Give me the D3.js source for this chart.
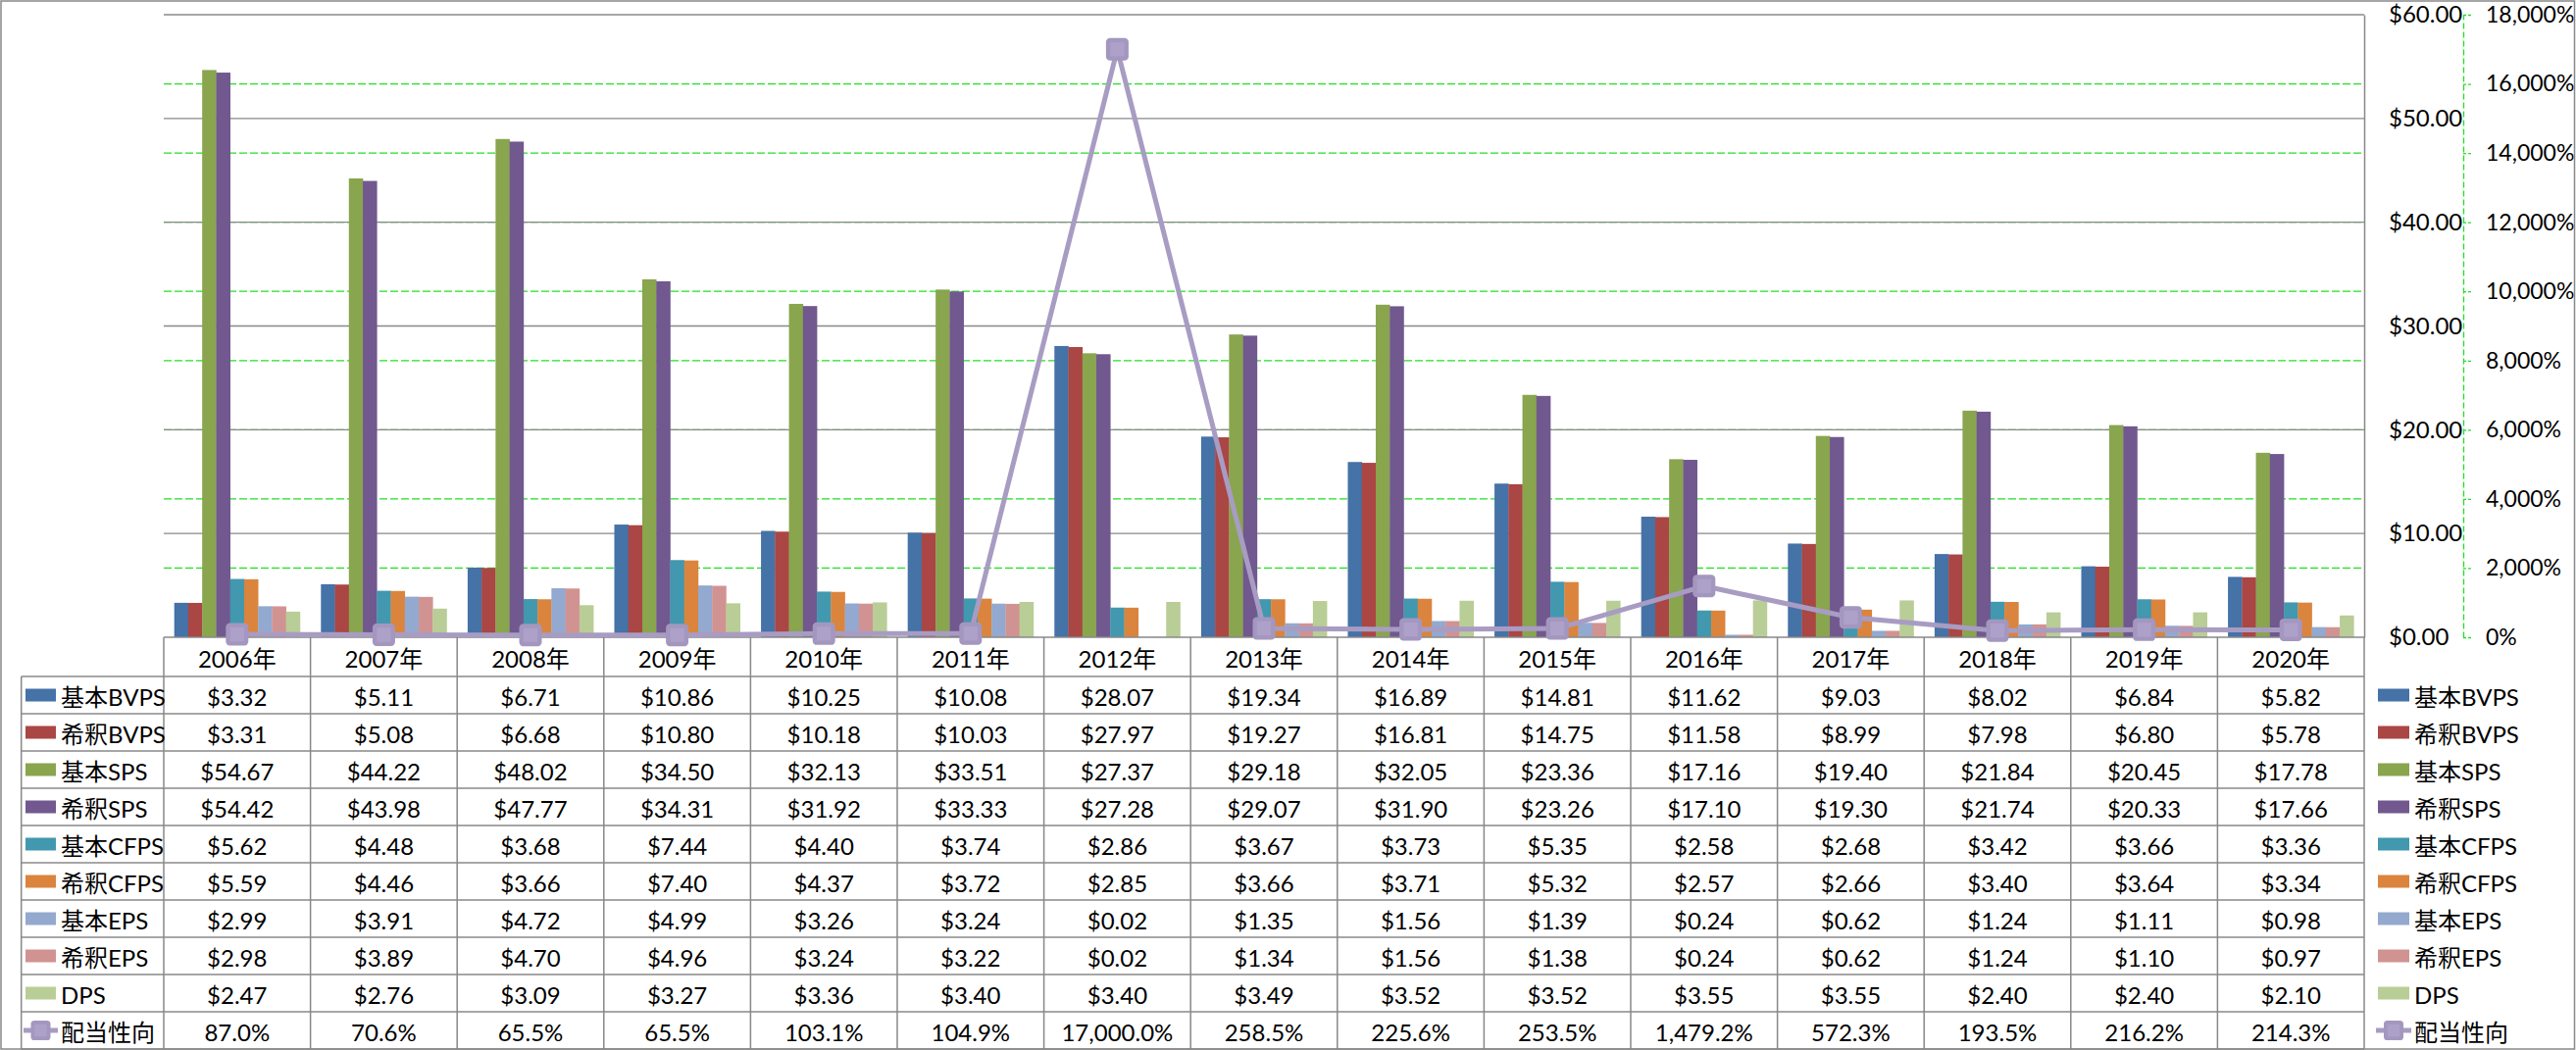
<!DOCTYPE html>
<html>
<head>
<meta charset="utf-8">
<script src="https://cdn.jsdelivr.net/npm/d3@7/dist/d3.min.js"></script>
<style>
  html, body { margin: 0; padding: 0; background: #fff; }
  svg { display: block; }
  text { font-family: Lato, "Noto Sans CJK JP", sans-serif; font-size: 24px; fill: #000; }
</style>
</head>
<body>
<svg id="chart" width="2627" height="1071"></svg>
<script>
// ---------------- DATA ----------------
const years = ["2006年","2007年","2008年","2009年","2010年","2011年","2012年","2013年","2014年","2015年","2016年","2017年","2018年","2019年","2020年"];

const barSeriesNames = ["基本BVPS","希釈BVPS","基本SPS","希釈SPS","基本CFPS","希釈CFPS","基本EPS","希釈EPS","DPS"];
const lineSeriesName = "配当性向";

const basicBVPS   = [3.32, 5.11, 6.71, 10.86, 10.25, 10.08, 28.07, 19.34, 16.89, 14.81, 11.62, 9.03, 8.02, 6.84, 5.82];
const dilutedBVPS = [3.31, 5.08, 6.68, 10.80, 10.18, 10.03, 27.97, 19.27, 16.81, 14.75, 11.58, 8.99, 7.98, 6.80, 5.78];
const basicSPS    = [54.67, 44.22, 48.02, 34.50, 32.13, 33.51, 27.37, 29.18, 32.05, 23.36, 17.16, 19.40, 21.84, 20.45, 17.78];
const dilutedSPS  = [54.42, 43.98, 47.77, 34.31, 31.92, 33.33, 27.28, 29.07, 31.90, 23.26, 17.10, 19.30, 21.74, 20.33, 17.66];
const basicCFPS   = [5.62, 4.48, 3.68, 7.44, 4.40, 3.74, 2.86, 3.67, 3.73, 5.35, 2.58, 2.68, 3.42, 3.66, 3.36];
const dilutedCFPS = [5.59, 4.46, 3.66, 7.40, 4.37, 3.72, 2.85, 3.66, 3.71, 5.32, 2.57, 2.66, 3.40, 3.64, 3.34];
const basicEPS    = [2.99, 3.91, 4.72, 4.99, 3.26, 3.24, 0.02, 1.35, 1.56, 1.39, 0.24, 0.62, 1.24, 1.11, 0.98];
const dilutedEPS  = [2.98, 3.89, 4.70, 4.96, 3.24, 3.22, 0.02, 1.34, 1.56, 1.38, 0.24, 0.62, 1.24, 1.10, 0.97];
const dps         = [2.47, 2.76, 3.09, 3.27, 3.36, 3.40, 3.40, 3.49, 3.52, 3.52, 3.55, 3.55, 2.40, 2.40, 2.10];
const payoutRatio = [87.0, 70.6, 65.5, 65.5, 103.1, 104.9, 17000.0, 258.5, 225.6, 253.5, 1479.2, 572.3, 193.5, 216.2, 214.3];

const primaryTicks = [0, 10, 20, 30, 40, 50, 60];
const secondaryTicks = [0, 2000, 4000, 6000, 8000, 10000, 12000, 14000, 16000, 18000];

const barValues = [basicBVPS, dilutedBVPS, basicSPS, dilutedSPS, basicCFPS, dilutedCFPS, basicEPS, dilutedEPS, dps];
const barColors = ["#4572A7","#AA4643","#89A54E","#71588F","#4198AF","#DB843D","#93A9CF","#D19392","#B9CD96"];
const lineColor = "#a89cc3";
const markerColor = "#a497bf";
const markerInner = "#ada1c9";

// ---------------- LAYOUT ----------------
const W = 2627, H = 1071;
const plotL = 167, plotR = 2411, plotT = 15, plotB = 650;
const tableLeft = 21.7;
const headerBottom = 690, rowH = 38;
const gridGray = "#888888";
const green = "#22e022";

const svg = d3.select("#chart");

const x = d3.scaleBand().domain(years).range([plotL, plotR]).paddingInner(0).paddingOuter(0);
const xs = d3.scaleBand().domain(barSeriesNames).range([0, x.bandwidth()]).paddingInner(0).paddingOuter(0.75);
const y = d3.scaleLinear().domain([0, 60]).range([plotB, plotT]);
const y2 = d3.scaleLinear().domain([0, 18000]).range([plotB, plotT]);

svg.append("rect").attr("x", 0).attr("y", 0).attr("width", W).attr("height", H).attr("fill", "#fff");

// secondary gridlines (green dashed)
svg.append("g").selectAll("line").data(secondaryTicks.filter(d => d > 0 && d < 18000)).join("line")
  .attr("x1", plotL).attr("x2", plotR)
  .attr("y1", d => y2(d)).attr("y2", d => y2(d))
  .attr("stroke", green).attr("stroke-width", 1.3).attr("stroke-dasharray", "8,3");

// primary gridlines (gray)
svg.append("g").selectAll("line").data(primaryTicks.filter(d => d > 0)).join("line")
  .attr("x1", plotL).attr("x2", plotR)
  .attr("y1", d => y(d)).attr("y2", d => y(d))
  .attr("stroke", gridGray).attr("stroke-width", 1.3);

// bars
const seriesG = svg.append("g");
barSeriesNames.forEach((name, si) => {
  seriesG.append("g").selectAll("rect").data(barValues[si]).join("rect")
    .attr("x", (d, i) => x(years[i]) + xs(name))
    .attr("width", xs.bandwidth() + 0.3)
    .attr("y", d => y(d))
    .attr("height", d => y(0) - y(d))
    .attr("fill", barColors[si]);
});

// category axis line
svg.append("line").attr("x1", plotL).attr("x2", plotR).attr("y1", plotB).attr("y2", plotB)
  .attr("stroke", gridGray).attr("stroke-width", 1.5);

// line series
const cx = (i) => x(years[i]) + x.bandwidth() / 2;
const lineGen = d3.line().x((d, i) => cx(i)).y(d => y2(d));
svg.append("path").datum(payoutRatio).attr("d", lineGen)
  .attr("fill", "none").attr("stroke", lineColor).attr("stroke-width", 5).attr("stroke-linejoin", "round");

function marker(g, mx, my, s) {
  g.append("rect").attr("x", mx - s / 2).attr("y", my - s / 2).attr("width", s).attr("height", s)
    .attr("rx", s * 0.18).attr("fill", markerColor);
  const inn = s * 0.62;
  g.append("rect").attr("x", mx - inn / 2).attr("y", my - inn / 2).attr("width", inn).attr("height", inn)
    .attr("fill", markerInner);
}
const mg = svg.append("g");
payoutRatio.forEach((v, i) => marker(mg, cx(i), y2(v), 23));

// primary axis (right side)
const yAxis = d3.axisRight(y).tickValues(primaryTicks).tickSize(0).tickPadding(25).tickFormat(d3.format("$,.2f"));
const ya = svg.append("g").attr("transform", `translate(${plotR},0)`).call(yAxis);
ya.select(".domain").attr("stroke", gridGray).attr("stroke-width", 1.5);
ya.selectAll("text").style("font-size", "24px").attr("fill", "#000");

// secondary axis
const y2Axis = d3.axisRight(y2).tickValues(secondaryTicks).tickSizeInner(8).tickSizeOuter(0).tickPadding(15)
  .tickFormat(d => d3.format(",")(d) + "%");
const y2a = svg.append("g").attr("transform", "translate(2512,0)").call(y2Axis);
y2a.select(".domain").attr("stroke", green).attr("stroke-width", 1.3).attr("stroke-dasharray", "6,3");
y2a.selectAll(".tick line").attr("stroke", green).attr("stroke-width", 1.3).attr("stroke-dasharray", "3,2");
y2a.selectAll("text").style("font-size", "23px").attr("fill", "#000");

// ---------------- DATA TABLE ----------------
const tg = svg.append("g");
tg.selectAll("text.cat").data(years).join("text").attr("class", "cat")
  .attr("x", d => x(d) + x.bandwidth() / 2).attr("y", (plotB + headerBottom) / 2 + 1)
  .attr("text-anchor", "middle").attr("dominant-baseline", "central").text(d => d);

const rowNames = barSeriesNames.concat([lineSeriesName]);
const rowValues = barValues.concat([payoutRatio]);
const fmtD = d3.format("$,.2f");
const fmtP = d => d3.format(",.1f")(d) + "%";
const tableBottom = headerBottom + rowNames.length * rowH;

tg.selectAll("line.h").data(d3.range(rowNames.length + 1)).join("line").attr("class", "h")
  .attr("x1", tableLeft).attr("x2", plotR)
  .attr("y1", i => headerBottom + i * rowH).attr("y2", i => headerBottom + i * rowH)
  .attr("stroke", gridGray).attr("stroke-width", 1.5);
tg.append("line").attr("x1", tableLeft).attr("x2", tableLeft).attr("y1", headerBottom).attr("y2", tableBottom)
  .attr("stroke", gridGray).attr("stroke-width", 1.5);
tg.selectAll("line.v").data(d3.range(years.length + 1)).join("line").attr("class", "v")
  .attr("x1", i => plotL + i * x.step()).attr("x2", i => plotL + i * x.step())
  .attr("y1", plotB).attr("y2", tableBottom)
  .attr("stroke", gridGray).attr("stroke-width", 1.5);

rowNames.forEach((name, ri) => {
  const ry = headerBottom + ri * rowH + rowH / 2 + 1;
  const isLine = ri === rowNames.length - 1;
  tg.append("g").selectAll("text").data(rowValues[ri]).join("text")
    .attr("x", (d, i) => x(years[i]) + x.bandwidth() / 2).attr("y", ry)
    .attr("text-anchor", "middle").attr("dominant-baseline", "central")
    .text(d => isLine ? fmtP(d) : fmtD(d));
});

function legendKey(g, x0, ri, sw, tx) {
  const name = rowNames[ri];
  const ry = headerBottom + ri * rowH + rowH / 2;
  if (ri < barSeriesNames.length) {
    g.append("rect").attr("x", x0).attr("y", ry - 6.5).attr("width", sw).attr("height", 13).attr("fill", barColors[ri]);
  } else {
    g.append("line").attr("x1", x0 - 2).attr("x2", x0 + sw + 2).attr("y1", ry).attr("y2", ry)
      .attr("stroke", lineColor).attr("stroke-width", 5);
    marker(g, x0 + sw / 2, ry, 20);
  }
  g.append("text").attr("x", tx).attr("y", ry + 1).attr("dominant-baseline", "central").text(name);
}
const lg = svg.append("g");
rowNames.forEach((n, ri) => legendKey(lg, 26, ri, 31, 62));
const rg = svg.append("g");
rowNames.forEach((n, ri) => legendKey(rg, 2425, ri, 32, 2462));

svg.append("rect").attr("x", 1).attr("y", 1).attr("width", W - 2.5).attr("height", H - 2)
  .attr("fill", "none").attr("stroke", gridGray).attr("stroke-width", 1.5);
</script>
</body>
</html>
